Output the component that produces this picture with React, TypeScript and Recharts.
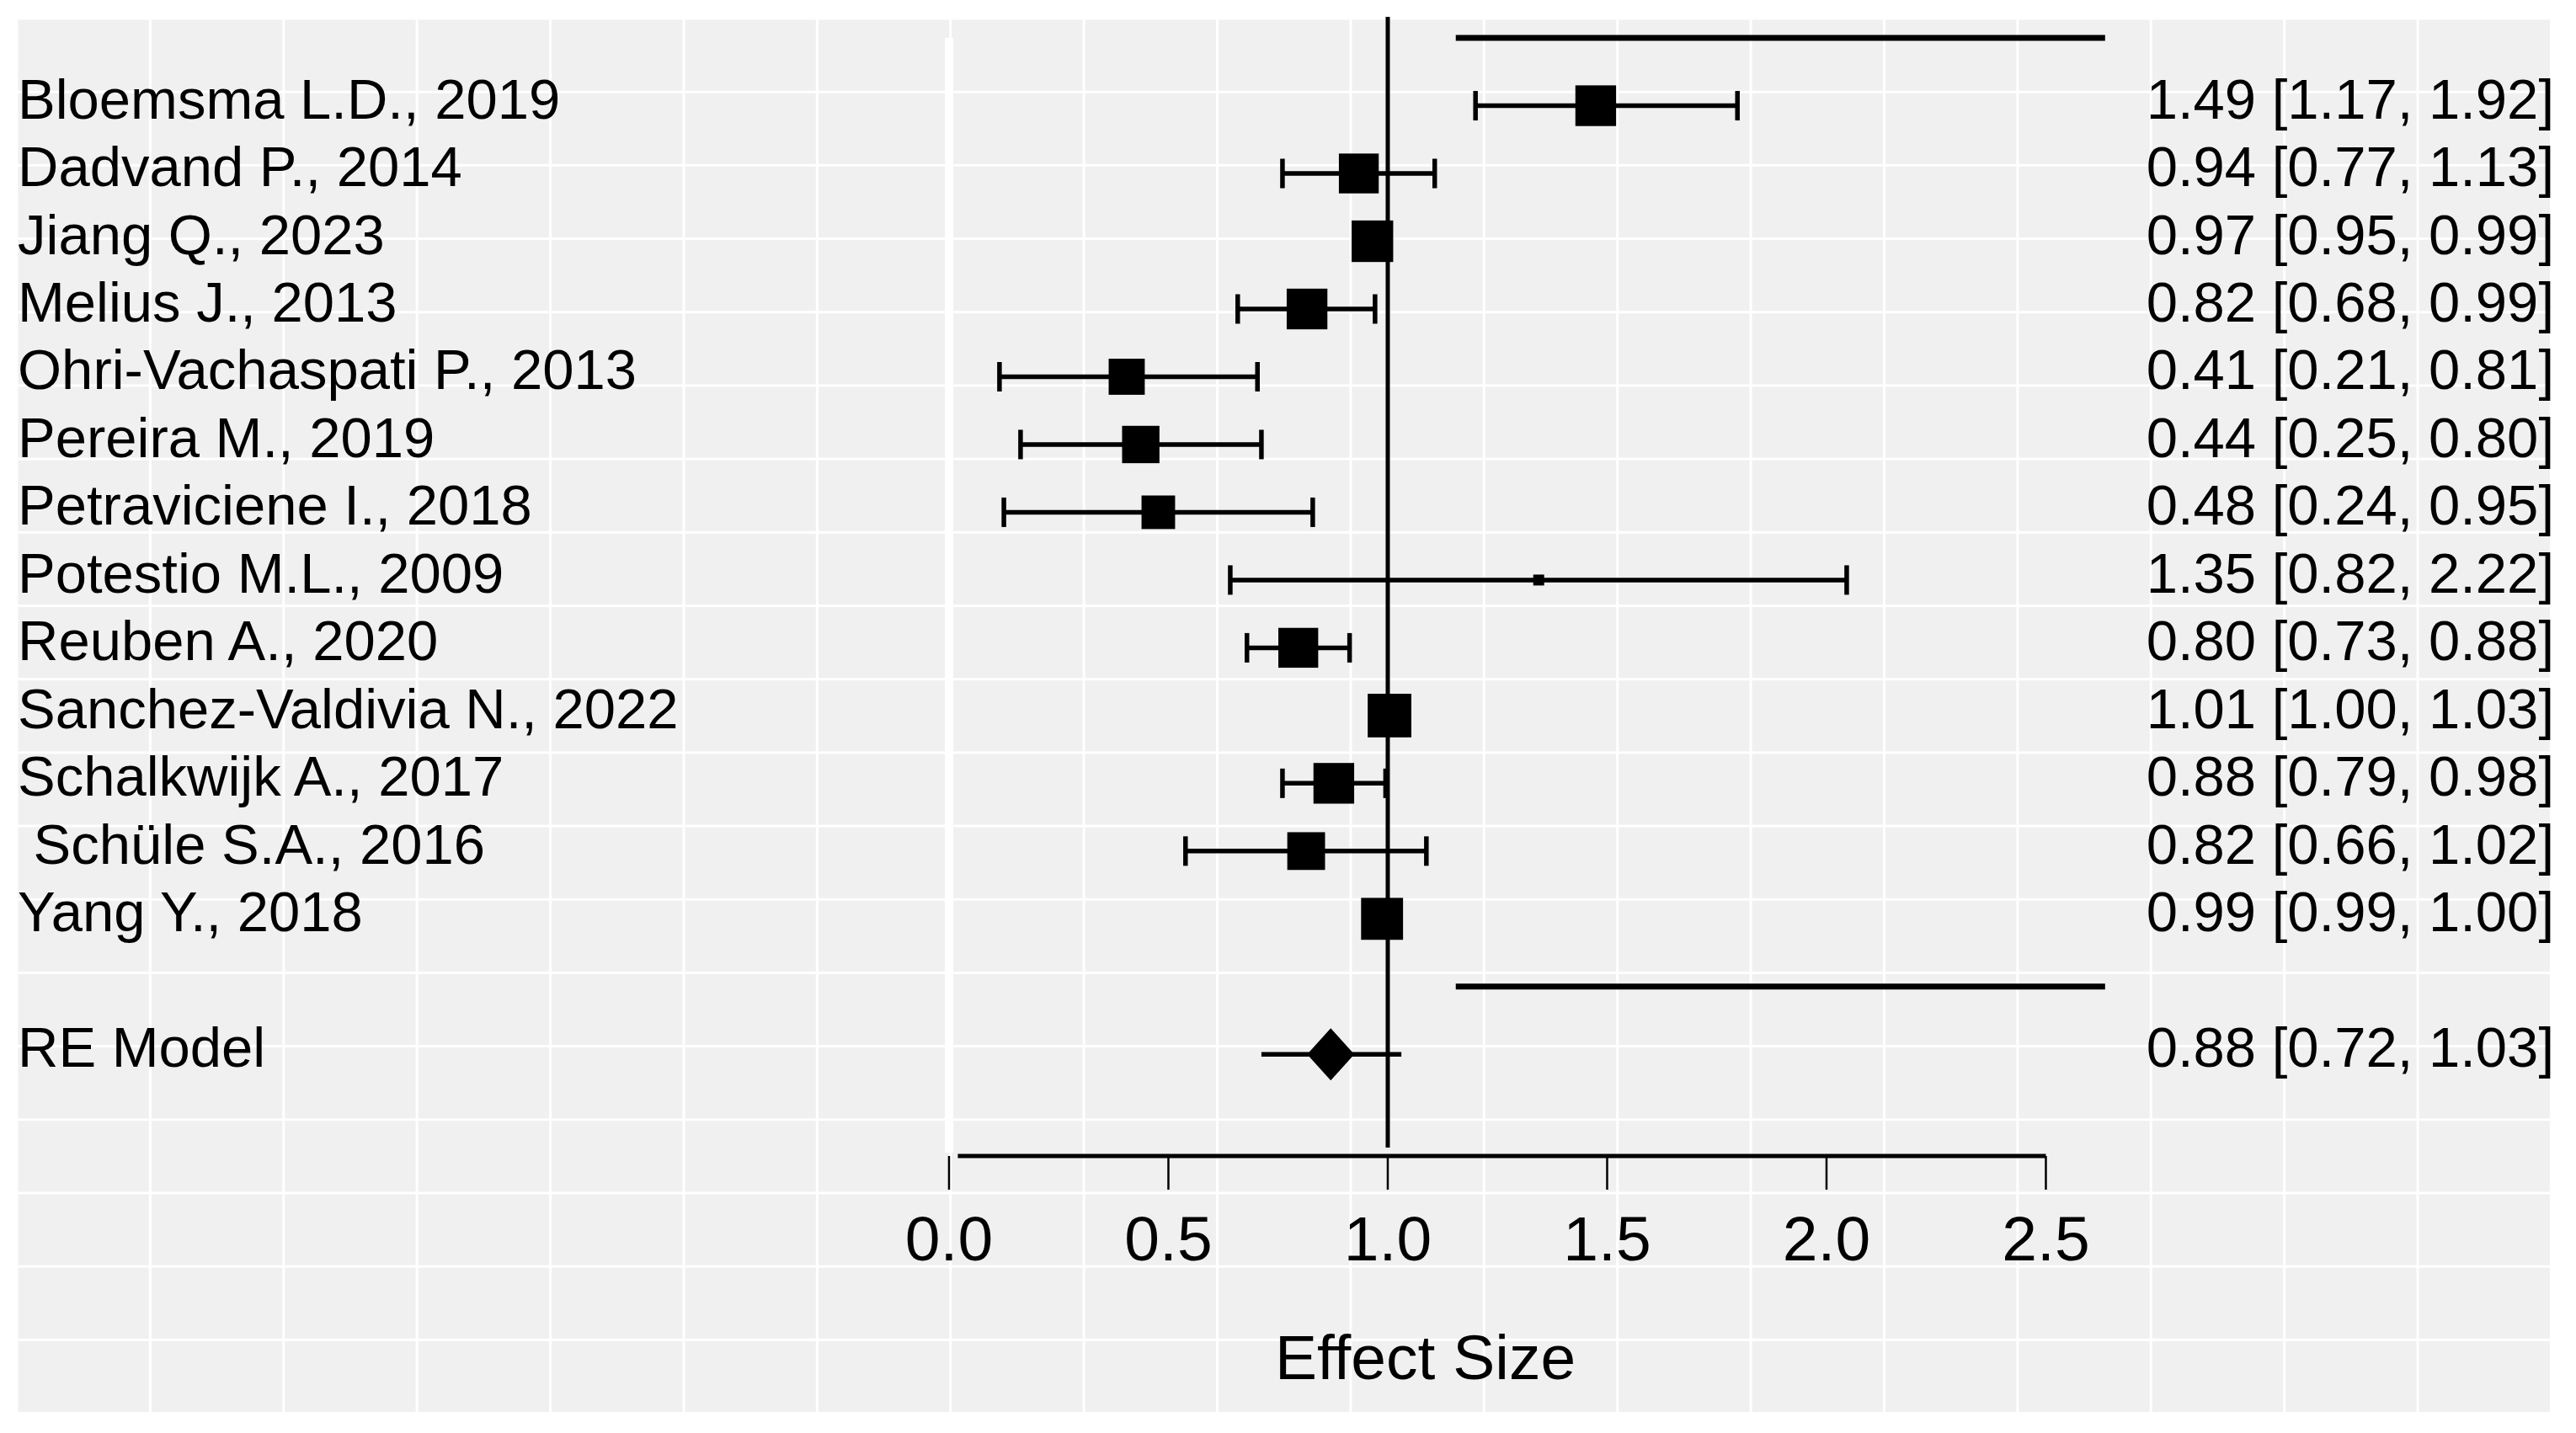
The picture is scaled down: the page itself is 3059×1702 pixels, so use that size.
import {
  ScatterChart,
  Scatter,
  XAxis,
  YAxis,
  ZAxis,
  ErrorBar,
  ReferenceLine,
} from "recharts";

// study rows, top to bottom
const studies = [
  "Bloemsma L.D., 2019",
  "Dadvand P., 2014",
  "Jiang Q., 2023",
  "Melius J., 2013",
  "Ohri-Vachaspati P., 2013",
  "Pereira M., 2019",
  "Petraviciene I., 2018",
  "Potestio M.L., 2009",
  "Reuben A., 2020",
  "Sanchez-Valdivia N., 2022",
  "Schalkwijk A., 2017",
  " Schüle S.A., 2016",
  "Yang Y., 2018",
];

// drawn point estimates and interval ends
const estimates = [1.474, 0.934, 0.965, 0.816, 0.405, 0.437, 0.477, 1.344, 0.796, 1.004, 0.877, 0.814, 0.987];
const ciLower = [1.2, 0.76, 0.945, 0.658, 0.115, 0.163, 0.125, 0.641, 0.679, 0.99, 0.76, 0.539, 0.975];
const ciUpper = [1.797, 1.107, 0.985, 0.971, 0.703, 0.712, 0.829, 2.046, 0.913, 1.018, 0.995, 1.088, 1.0];
// relative weights (%), from box areas
const weights = [8.76, 8.4, 9.13, 8.76, 6.89, 7.38, 5.96, 0.63, 8.4, 10.07, 8.76, 7.54, 9.31];

const estimateLabels = [
  "1.49 [1.17, 1.92]",
  "0.94 [0.77, 1.13]",
  "0.97 [0.95, 0.99]",
  "0.82 [0.68, 0.99]",
  "0.41 [0.21, 0.81]",
  "0.44 [0.25, 0.80]",
  "0.48 [0.24, 0.95]",
  "1.35 [0.82, 2.22]",
  "0.80 [0.73, 0.88]",
  "1.01 [1.00, 1.03]",
  "0.88 [0.79, 0.98]",
  "0.82 [0.66, 1.02]",
  "0.99 [0.99, 1.00]",
];

const summaryName = "RE Model";
const summaryEstimate = 0.87;
const summaryLower = 0.712;
const summaryUpper = 1.031;
const summaryLabel = "0.88 [0.72, 1.03]";

const xTicks = [0, 0.5, 1, 1.5, 2, 2.5];

const FONT = "'Liberation Sans', Arial, sans-serif";
const k = studies.length;
const summaryRow = -1;

const studyData = studies.map((name, i) => ({
  name,
  row: k - i,
  est: estimates[i],
  ci: [estimates[i] - ciLower[i], ciUpper[i] - estimates[i]],
  w: weights[i],
  label: estimateLabels[i],
}));

const summaryData = [
  {
    name: summaryName,
    row: summaryRow,
    est: summaryEstimate,
    ci: [summaryEstimate - summaryLower, summaryUpper - summaryEstimate],
    w: 1,
    label: summaryLabel,
  },
];

const allRows = [...studyData, ...summaryData];

function StudyBox(props: any) {
  const { cx, cy, size } = props;
  const side = Math.sqrt(Math.max(Number(size) || 0, 0));
  return (
    <rect x={cx - side / 2} y={cy - side / 2} width={side} height={side} fill="#000" />
  );
}

function SummaryDiamond(props: any) {
  const { cx, cy } = props;
  const hw = 28;
  const hh = 31;
  return (
    <polygon
      points={`${cx - hw},${cy} ${cx},${cy - hh} ${cx + hw},${cy} ${cx},${cy + hh}`}
      fill="#000"
    />
  );
}

// left study name and right estimate text, placed on the row's y
function RowLabel(props: any) {
  const { cy, payload } = props;
  if (!payload || cy == null) return null;
  return (
    <g>
      <text x={21} y={cy + 15} fontSize={67} fontFamily={FONT} fill="#000" textAnchor="start" style={{ whiteSpace: "pre" }}>
        {payload.name}
      </text>
      <text x={3033} y={cy + 15} fontSize={67} fontFamily={FONT} fill="#000" textAnchor="end">
        {payload.label}
      </text>
    </g>
  );
}

export default function App() {
  return (
    <div
      style={{
        position: "absolute",
        left: 0,
        top: 0,
        width: 3059,
        height: 1702,
        background: "#fff",
        overflow: "hidden",
      }}
    >
      {/* gray panel with white grid */}
      <div
        style={{
          position: "absolute",
          left: 20,
          top: 22,
          width: 3010,
          height: 1657,
          backgroundColor: "#f0f0f0",
          backgroundImage:
            "linear-gradient(to right, #ffffff 3px, transparent 3px), linear-gradient(to bottom, #ffffff 3px, transparent 3px)",
          backgroundSize: "158.4px 87.2px",
          backgroundPosition: "-1.5px -1.5px",
        }}
      />
      <div style={{ position: "absolute", left: 0, top: 0 }}>
        <ScatterChart width={3059} height={1702} margin={{ top: 0, right: 0, bottom: 0, left: 0 }}>
          <XAxis
            type="number"
            dataKey="est"
            domain={[-2.1631, 3.7083]}
            allowDataOverflow
            ticks={xTicks}
            interval={0}
            height={329}
            axisLine={false}
            tickSize={40}
            tickMargin={31}
            tickLine={{ stroke: "#000", strokeWidth: 2.5 }}
            tick={{ fontSize: 75, fontFamily: FONT, fill: "#000" }}
            tickFormatter={(v: number) => v.toFixed(1)}
            label={{
              content: (p: any) => {
                const vb = p.viewBox;
                return (
                  <text
                    x={vb.x + vb.width * 0.5533}
                    y={vb.y + vb.height - 64}
                    textAnchor="middle"
                    fontSize={75}
                    fontFamily={FONT}
                    fill="#000"
                  >
                    Effect Size
                  </text>
                );
              },
            }}
          />
          <YAxis type="number" dataKey="row" domain={[-2.5, 14.56]} allowDataOverflow hide width={0} />
          <ZAxis type="number" dataKey="w" domain={[0, 10]} range={[0, 2685]} />

          <ReferenceLine
            segment={[{ x: 0, y: 14 }, { x: 0, y: -2.45 }]}
            stroke="#ffffff"
            strokeWidth={10}
            ifOverflow="visible"
          />
          <ReferenceLine
            segment={[{ x: 1.155, y: k + 1 }, { x: 2.635, y: k + 1 }]}
            stroke="#000"
            strokeWidth={7}
            ifOverflow="visible"
          />
          <ReferenceLine
            segment={[{ x: 1.155, y: 0 }, { x: 2.635, y: 0 }]}
            stroke="#000"
            strokeWidth={7}
            ifOverflow="visible"
          />
          <ReferenceLine
            segment={[{ x: 1, y: 14.31 }, { x: 1, y: -2.376 }]}
            stroke="#000"
            strokeWidth={5}
            ifOverflow="visible"
          />
          <ReferenceLine
            segment={[{ x: 0.02, y: -2.5 }, { x: 2.5, y: -2.5 }]}
            stroke="#000"
            strokeWidth={5}
            ifOverflow="visible"
          />

          <Scatter data={allRows} dataKey="est" shape={RowLabel} isAnimationActive={false} />
          <Scatter data={studyData} dataKey="est" shape={StudyBox} isAnimationActive={false}>
            <ErrorBar dataKey="ci" direction="x" width={17.5} stroke="#000" strokeWidth={5.5} />
          </Scatter>
          <Scatter data={summaryData} dataKey="est" shape={SummaryDiamond} isAnimationActive={false}>
            <ErrorBar dataKey="ci" direction="x" width={0} stroke="#000" strokeWidth={5.5} />
          </Scatter>
        </ScatterChart>
      </div>
    </div>
  );
}
